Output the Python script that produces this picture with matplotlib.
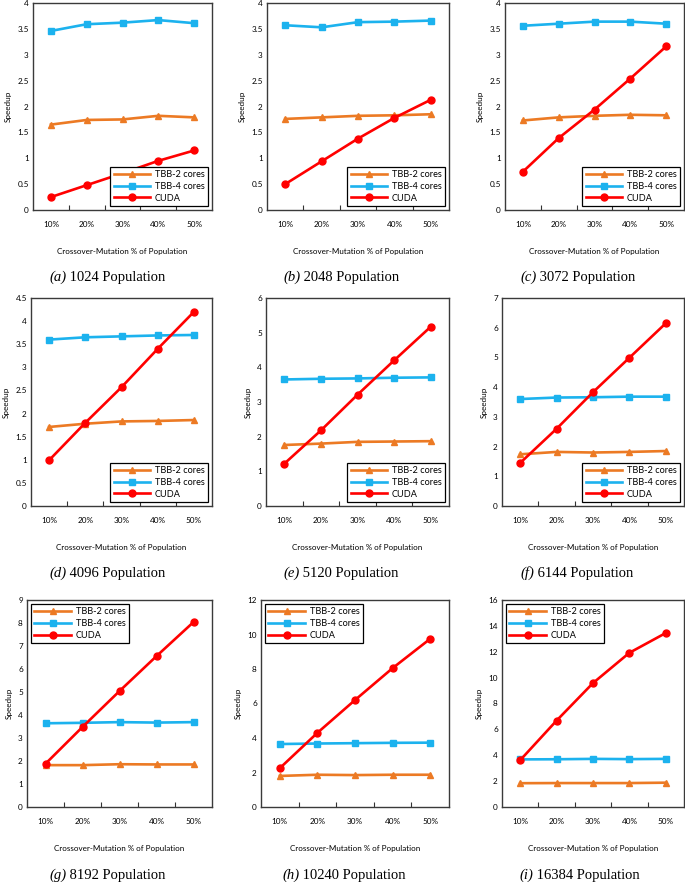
import matplotlib
matplotlib.use("Agg")
import matplotlib.pyplot as plt
from matplotlib.ticker import FuncFormatter, FixedLocator

categories = ["10%", "20%", "30%", "40%", "50%"]
series_names = ["TBB-2 cores", "TBB-4 cores", "CUDA"]

pop_labels = ["1024", "2048", "3072", "4096", "5120", "6144", "8192", "10240", "16384"]
panel_letters = ["a", "b", "c", "d", "e", "f", "g", "h", "i"]

tbb2 = [
    [1.65, 1.74, 1.75, 1.82, 1.79],
    [1.76, 1.79, 1.82, 1.83, 1.85],
    [1.73, 1.79, 1.82, 1.84, 1.83],
    [1.71, 1.78, 1.83, 1.84, 1.86],
    [1.76, 1.80, 1.85, 1.86, 1.87],
    [1.74, 1.82, 1.80, 1.82, 1.85],
    [1.82, 1.82, 1.86, 1.85, 1.85],
    [1.80, 1.87, 1.85, 1.87, 1.87],
    [1.84, 1.85, 1.85, 1.85, 1.88],
]
tbb4 = [
    [3.46, 3.59, 3.62, 3.67, 3.61],
    [3.57, 3.53, 3.63, 3.64, 3.66],
    [3.56, 3.60, 3.64, 3.64, 3.60],
    [3.60, 3.65, 3.67, 3.69, 3.70],
    [3.65, 3.67, 3.68, 3.70, 3.71],
    [3.60, 3.65, 3.66, 3.68, 3.68],
    [3.64, 3.66, 3.69, 3.67, 3.69],
    [3.65, 3.68, 3.70, 3.72, 3.73],
    [3.68, 3.69, 3.72, 3.70, 3.72],
]
cuda = [
    [0.25, 0.48, 0.71, 0.95, 1.15],
    [0.50, 0.94, 1.38, 1.78, 2.13],
    [0.74, 1.39, 1.94, 2.54, 3.16],
    [0.99, 1.80, 2.57, 3.40, 4.20],
    [1.22, 2.18, 3.21, 4.20, 5.17],
    [1.45, 2.60, 3.83, 4.99, 6.15],
    [1.88, 3.48, 5.04, 6.56, 8.04],
    [2.25, 4.30, 6.20, 8.05, 9.75],
    [3.62, 6.68, 9.58, 11.92, 13.45],
]
y_max = [4, 4, 4, 4.5, 6, 7, 9, 12, 16]
y_step = [0.5, 0.5, 0.5, 0.5, 1, 1, 1, 2, 2]

W, H = 685, 882
fig = plt.figure(figsize=(W / 100, H / 100), dpi=100)
fig.patch.set_facecolor("white")

# pixel boxes (left, top, right, bottom)
boxes = [
    (33, 3, 212, 210), (267, 3, 449, 210), (505, 3, 684, 210),
    (31, 298, 212, 506), (266, 298, 449, 506), (502, 298, 684, 506),
    (27, 600, 212, 807), (261, 600, 449, 807), (502, 600, 684, 807),
]
caption_x = [49, 283, 520, 49, 283, 520, 49, 282, 519]
caption_y = [277, 277, 277, 573, 573, 573, 875, 875, 875]

colors = ["#EC7A24", "#1CB2EE", "#FF0000"]
markers = ["^", "s", "o"]
font = "Lato"
fs = 5.9
lfs = 6.6

for i in range(9):
    l, t, r, b = boxes[i]
    ax = fig.add_axes([l / W, 1 - b / H, (r - l) / W, (b - t) / H])
    x = list(range(len(categories)))
    for vals, c, m, name in zip([tbb2[i], tbb4[i], cuda[i]], colors, markers, series_names):
        ax.plot(x, vals, color=c, marker=m, markersize=5.0, linewidth=1.9, label=name)
    ax.set_xlim(-0.5, 4.5)
    ax.set_ylim(0, y_max[i])
    n = int(round(y_max[i] / y_step[i]))
    ax.yaxis.set_major_locator(FixedLocator([k * y_step[i] for k in range(n + 1)]))
    ax.yaxis.set_major_formatter(FuncFormatter(lambda v, p: "%g" % v))
    ax.set_xticks(x)
    ax.set_xticklabels(categories)
    ax.xaxis.set_minor_locator(FixedLocator([0.5, 1.5, 2.5, 3.5]))
    ax.tick_params(axis="x", which="major", length=0, pad=8, labelsize=fs)
    ax.tick_params(axis="x", which="minor", length=3.5, direction="in", width=0.8, color="#333333")
    ax.tick_params(axis="y", which="major", length=0, pad=3, labelsize=fs)
    for lab in ax.get_xticklabels() + ax.get_yticklabels():
        lab.set_fontfamily(font)
    for sp in ax.spines.values():
        sp.set_color("#3a3a3a")
        sp.set_linewidth(1.0)
    ax.set_xlabel("Crossover-Mutation % of Population", fontsize=5.8, fontfamily=font, labelpad=14)
    ax.set_ylabel("Speedup", fontsize=fs, fontfamily=font, labelpad=4)
    loc = "lower right" if i < 6 else "upper left"
    leg = ax.legend(loc=loc, prop={"family": font, "size": lfs}, frameon=True, fancybox=False,
                    edgecolor="black", framealpha=1, handlelength=4.0, borderpad=0.35,
                    labelspacing=0.3, handletextpad=0.5, borderaxespad=0.45)
    leg.get_frame().set_linewidth(0.9)

    t1 = fig.text(caption_x[i] / W, 1 - caption_y[i] / H, "(%s)" % panel_letters[i],
                  fontfamily="Liberation Serif", fontstyle="italic", fontsize=10.5,
                  ha="left", va="center")
    fig.add_artist(matplotlib.text.Annotation(
        " %s Population" % pop_labels[i], xy=(1, 0), xycoords=t1, va="bottom", ha="left",
        fontfamily="Liberation Serif", fontsize=10.5))

fig.savefig("out.png", dpi=100, facecolor="white")
